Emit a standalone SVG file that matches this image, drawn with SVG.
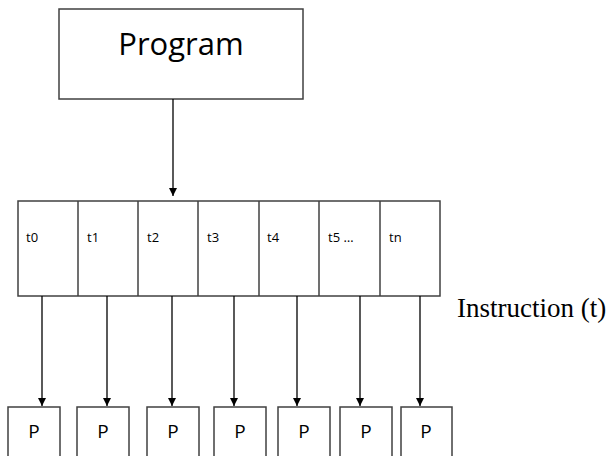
<svg xmlns="http://www.w3.org/2000/svg" width="608" height="456" viewBox="0 0 608 456">
<defs>
<style>
.box{fill:#fff;stroke:#404040;stroke-width:1.5}
.conn{stroke:#000;stroke-width:1.3;fill:none;marker-end:url(#ah)}
.t{font-family:"Open Sans","DejaVu Sans",sans-serif;font-size:13px;fill:#000}
.p{font-family:"Open Sans","DejaVu Sans",sans-serif;font-size:19px;fill:#000;text-anchor:middle}
</style>
<marker id="ah" viewBox="0 0 8 10" refX="8" refY="5" markerWidth="8" markerHeight="10" markerUnits="userSpaceOnUse" orient="auto">
<path d="M0,1 L8,5 L0,9 Z" fill="#000"/>
</marker>
</defs>
<rect width="608" height="456" fill="#fff"/>
<g id="program">
<rect class="box" x="59" y="9" width="244" height="90"/>
<text x="181" y="55" font-family="Open Sans, DejaVu Sans, sans-serif" font-size="31" text-anchor="middle">Program</text>
</g>
<g id="instructions">
<rect class="box" x="18" y="201" width="422" height="95"/>
<line x1="78" y1="201" x2="78" y2="296" stroke="#404040" stroke-width="1.5"/>
<line x1="138" y1="201" x2="138" y2="296" stroke="#404040" stroke-width="1.5"/>
<line x1="198" y1="201" x2="198" y2="296" stroke="#404040" stroke-width="1.5"/>
<line x1="259" y1="201" x2="259" y2="296" stroke="#404040" stroke-width="1.5"/>
<line x1="319" y1="201" x2="319" y2="296" stroke="#404040" stroke-width="1.5"/>
<line x1="380" y1="201" x2="380" y2="296" stroke="#404040" stroke-width="1.5"/>
<text class="t" x="26" y="242">t0</text>
<text class="t" x="87" y="242">t1</text>
<text class="t" x="147" y="242">t2</text>
<text class="t" x="207" y="242">t3</text>
<text class="t" x="267" y="242">t4</text>
<text class="t" x="328" y="242">t5 …</text>
<text class="t" x="389" y="242">tn</text>
</g>
<g id="label">
<text x="457" y="317" font-family="Liberation Serif, Times New Roman, serif" font-size="27">Instruction (t)</text>
</g>
<g id="p0"><rect class="box" x="8" y="407" width="52" height="60"/><text class="p" x="34" y="438">P</text></g>
<g id="p1"><rect class="box" x="77" y="407" width="52" height="60"/><text class="p" x="103" y="438">P</text></g>
<g id="p2"><rect class="box" x="147" y="407" width="52" height="60"/><text class="p" x="173" y="438">P</text></g>
<g id="p3"><rect class="box" x="214" y="407" width="52" height="60"/><text class="p" x="240" y="438">P</text></g>
<g id="p4"><rect class="box" x="278" y="407" width="52" height="60"/><text class="p" x="304" y="438">P</text></g>
<g id="p5"><rect class="box" x="340" y="407" width="52" height="60"/><text class="p" x="366" y="438">P</text></g>
<g id="p6"><rect class="box" x="401" y="407" width="51" height="60"/><text class="p" x="426" y="438">P</text></g>
<g id="connectors">
<line class="conn" x1="173" y1="99" x2="173" y2="196"/>
<line class="conn" x1="42" y1="296" x2="42" y2="406"/>
<line class="conn" x1="107" y1="296" x2="107" y2="406"/>
<line class="conn" x1="172" y1="296" x2="172" y2="406"/>
<line class="conn" x1="234" y1="296" x2="234" y2="406"/>
<line class="conn" x1="297" y1="296" x2="297" y2="406"/>
<line class="conn" x1="360" y1="296" x2="360" y2="406"/>
<line class="conn" x1="420" y1="296" x2="420" y2="406"/>
</g>
</svg>
